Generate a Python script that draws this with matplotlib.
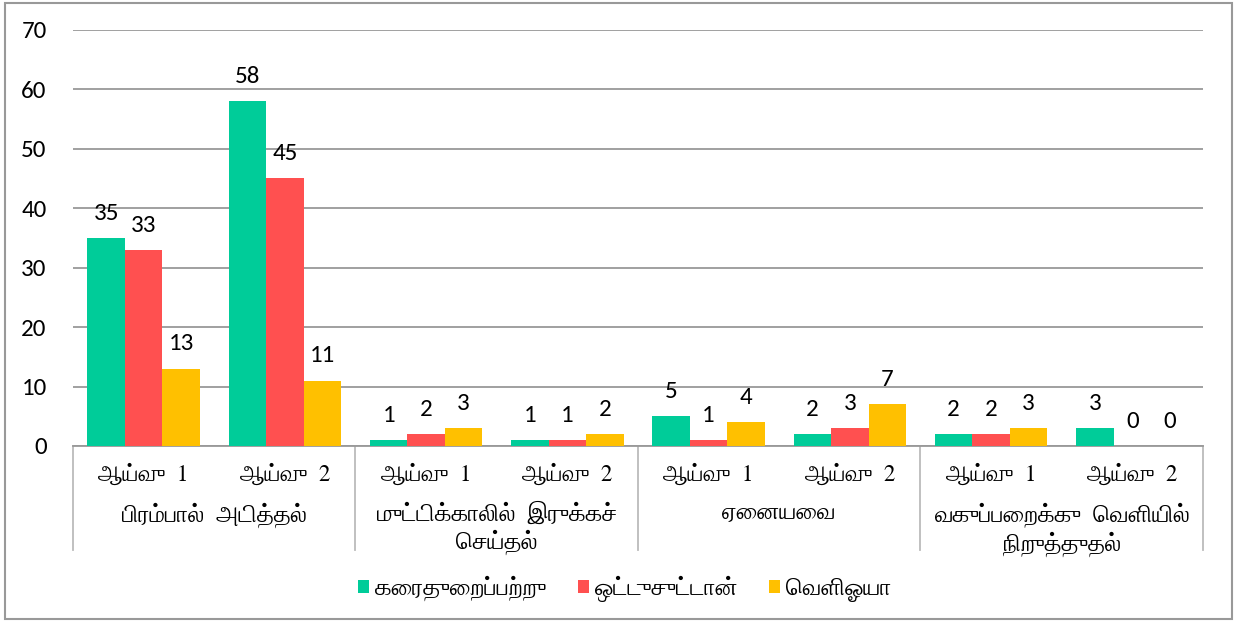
import numpy as np
import matplotlib
matplotlib.use("Agg")
import matplotlib.pyplot as plt
from matplotlib import font_manager
from matplotlib.transforms import blended_transform_factory

# data
groups = ["பிரம்பால்  அடித்தல்", "முட்டிக்காலில்  இருக்கச்\nசெய்தல்",
          "ஏனையவை", "வகுப்பறைக்கு  வெளியில்\nநிறுத்துதல்"]
sub_labels = ["ஆய்வு  1", "ஆய்வு  2"]
series = ["கரைதுறைப்பற்று", "ஒட்டுசுட்டான்", "வெளிஓயா"]
green = [35, 58, 1, 1, 5, 2, 2, 3]
red = [33, 45, 2, 1, 1, 3, 2, 0]
yellow = [13, 11, 3, 2, 4, 7, 3, 0]
colors = ["#00CC99", "#FF5050", "#FFC000"]

# Tamil font (serif, like the original)
tamil_font = "DejaVu Sans"
for f in font_manager.findSystemFonts():
    if f.endswith("FreeSerif.ttf"):
        font_manager.fontManager.addfont(f)
        tamil_font = "FreeSerif"

names = {fe.name for fe in font_manager.fontManager.ttflist}
num_font = "Carlito" if "Carlito" in names else "Lato"

# matplotlib has no complex text shaping: put pre-base vowel signs
# in front of their consonant so the glyphs show in reading order
PRE = "\u0BC6\u0BC7\u0BC8"
SPLIT = {"\u0BCA": "\u0BC6\u0BBE", "\u0BCB": "\u0BC7\u0BBE",
         "\u0BCC": "\u0BC6\u0BD7"}


def tam(s):
    chars = "".join(SPLIT.get(c, c) for c in s)
    res = []
    for c in chars:
        if c in PRE and res:
            res.insert(len(res) - 1, c)
        else:
            res.append(c)
    return "".join(res)


plt.rcParams['font.family'] = [tamil_font, 'DejaVu Sans']

fig = plt.figure(figsize=(12.37, 6.22), dpi=100)
ax = fig.add_axes([0.059, 0.283, 0.9135, 0.669])

x = np.arange(len(green))
w = 0.265
for i, (vals, c) in enumerate(zip([green, red, yellow], colors)):
    xs = x + (i - 1) * w
    ax.bar(xs, vals, width=w, color=c, label=tam(series[i]), zorder=3)
    for xi, v in zip(xs, vals):
        ax.text(xi, v + 2.4, str(v), ha="center", va="bottom",
                fontsize=18, family=num_font)

ax.set_xlim(-0.5, len(green) - 0.5)
ax.set_ylim(0, 70)
ax.set_yticks(range(0, 71, 10))
ax.yaxis.grid(True, color="#999999", linewidth=1.3, zorder=0)
ax.tick_params(axis="y", length=0, pad=19, labelsize=18)
for lab in ax.get_yticklabels():
    lab.set_family(num_font)
ax.set_xticks([])
for s in ["left", "right", "top"]:
    ax.spines[s].set_visible(False)
ax.spines["bottom"].set_color("#999999")
ax.spines["bottom"].set_linewidth(1.3)

trans = blended_transform_factory(ax.transData, ax.transAxes)
for i in range(len(green)):
    ax.text(i, -0.069, tam(sub_labels[i % 2]), transform=trans, ha="center",
            va="center", fontsize=16.5)
for g, name in enumerate(groups):
    ax.text(2 * g + 0.5, -0.136, tam(name), transform=trans, ha="center",
            va="top", fontsize=17.5, linespacing=1.2)
for b in [-0.5, 1.5, 3.5, 5.5, 7.5]:
    ax.plot([b, b], [0, -0.25], transform=trans, color="#BBBBBB",
            linewidth=1.3, clip_on=False)

leg = fig.legend(loc="center", bbox_to_anchor=(0.505, 0.053), ncol=3,
                 frameon=False, fontsize=17.5, handlelength=0.45,
                 handleheight=0.45, handletextpad=0.25, columnspacing=1.3)

fig.patches.append(plt.Rectangle((0.004, 0.005), 0.992, 0.99,
                                 transform=fig.transFigure, fill=False,
                                 edgecolor="#999999", linewidth=1.5))

fig.savefig("out.png", dpi=100)
